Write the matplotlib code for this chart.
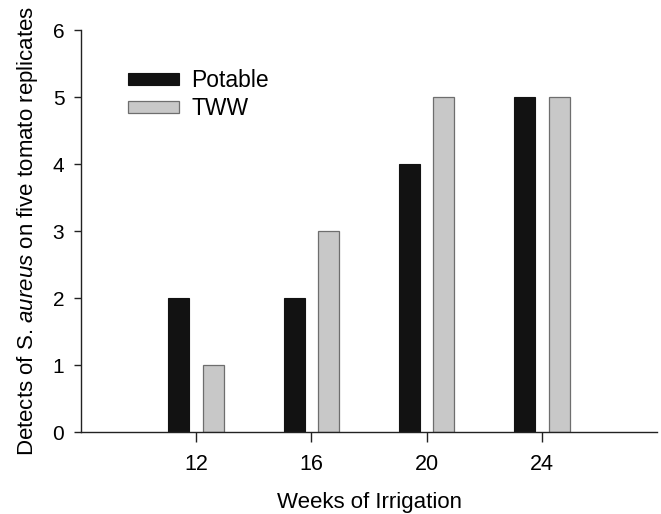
import numpy as np
import matplotlib.pyplot as plt

plt.rcParams['font.family'] = ['Liberation Sans', 'DejaVu Sans']
plt.rcParams['mathtext.fontset'] = 'custom'
plt.rcParams['mathtext.rm'] = 'Liberation Sans'
plt.rcParams['mathtext.it'] = 'Liberation Sans:italic'

# data
weeks = [12, 16, 20, 24]
potable = [2, 2, 4, 5]
tww = [1, 3, 5, 5]

fig = plt.figure(figsize=(6.61, 5.14), dpi=100)
ax = fig.add_axes([0.1225, 0.159, 0.8715, 0.7826])

x = np.array(weeks, dtype=float)
w = 0.73
ax.bar(x - 0.6, potable, width=w, color='#121212', edgecolor='#121212', linewidth=0.8, label='Potable')
ax.bar(x + 0.6, tww, width=w, color='#c8c8c8', edgecolor='#6e6e6e', linewidth=0.9, label='TWW')

ax.set_xlim(8, 28)
ax.set_ylim(0, 6)
ax.set_xticks(weeks)
ax.set_yticks(range(0, 7))

for s in ['top', 'right']:
    ax.spines[s].set_visible(False)
for s in ['left', 'bottom']:
    ax.spines[s].set_linewidth(1.0)
    ax.spines[s].set_color('#222222')

ax.tick_params(axis='y', length=5, width=1, pad=7, labelsize=15, color='#222222')
ax.tick_params(axis='x', length=7, width=1, pad=9, labelsize=15.5, color='#222222')

ax.set_xlabel('Weeks of Irrigation', fontsize=16, labelpad=12)
ax.set_ylabel('Detects of S. $aureus$ on five tomato replicates', fontsize=16, labelpad=9)

ax.legend(loc='upper left', bbox_to_anchor=(0.082, 0.903), frameon=False,
          fontsize=16.5, handlelength=2.23, handleheight=0.45, handletextpad=0.52,
          labelspacing=0.22, borderpad=0, borderaxespad=0)

fig.savefig('out.png', dpi=100)
